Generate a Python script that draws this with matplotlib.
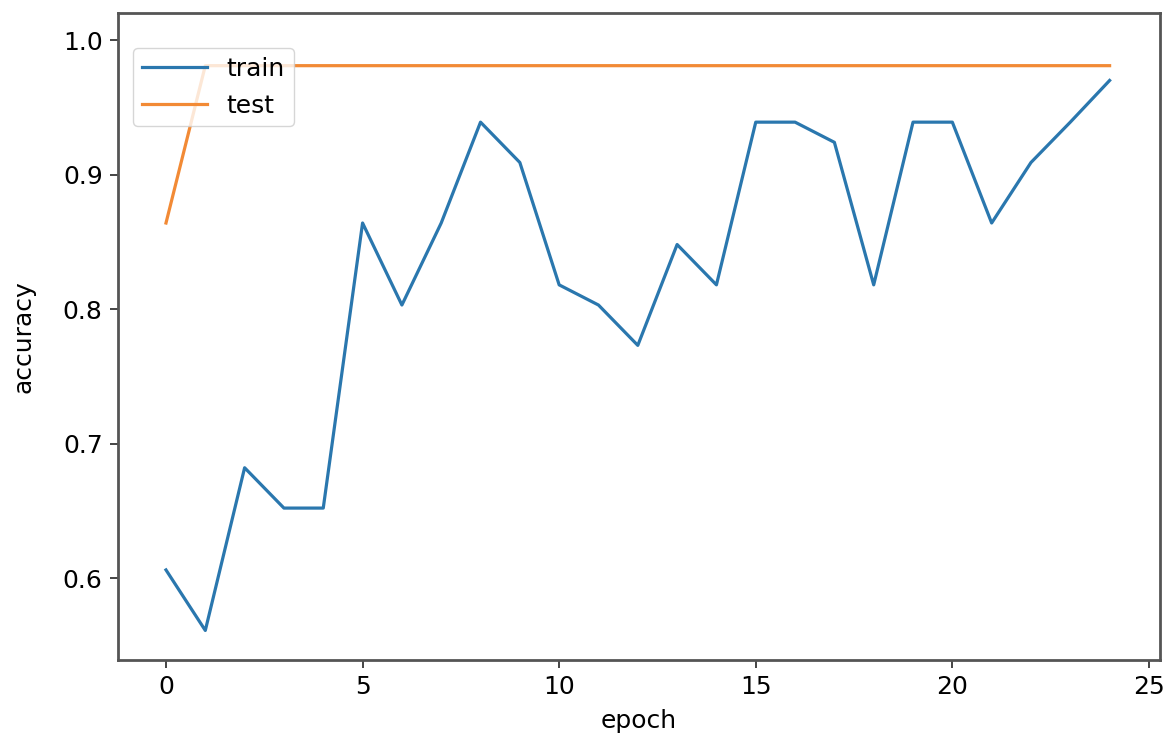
import matplotlib
matplotlib.use("Agg")
import matplotlib.pyplot as plt

# accuracy per epoch
epochs = list(range(25))
train_acc = [0.606, 0.561, 0.682, 0.652, 0.652, 0.864, 0.803, 0.864, 0.939, 0.909,
             0.818, 0.803, 0.773, 0.848, 0.818, 0.939, 0.939, 0.924, 0.818, 0.939,
             0.939, 0.864, 0.909, 0.939, 0.970]
test_acc = [0.864] + [0.981] * 24

plt.rcParams["font.family"] = ["DejaVu Sans"]
fs = 18

fig = plt.figure(figsize=(11.72, 7.35), dpi=100)
ax = fig.add_axes([0.1007, 0.102, 0.889, 0.880])

ax.plot(epochs, train_acc, color="#2a77ae", lw=2.3, label="train")
ax.plot(epochs, test_acc, color="#f28a35", lw=2.3, label="test")

ax.set_xlim(-1.22, 25.28)
ax.set_ylim(0.539, 1.020)
ax.set_xticks([0, 5, 10, 15, 20, 25])
ax.set_yticks([0.6, 0.7, 0.8, 0.9, 1.0])
ax.set_xlabel("epoch", fontsize=fs, labelpad=7)
ax.set_ylabel("accuracy", fontsize=fs, labelpad=20)
ax.tick_params(labelsize=fs, length=6, width=1.4, color="#444444", pad=5)
for s in ax.spines.values():
    s.set_color("#555555")
    s.set_linewidth(2)

ax.legend(loc="upper left", bbox_to_anchor=(0, 0.969), fontsize=fs,
          handlelength=2.6, borderaxespad=0.6, borderpad=0.35)

fig.savefig("out.png", dpi=100)
